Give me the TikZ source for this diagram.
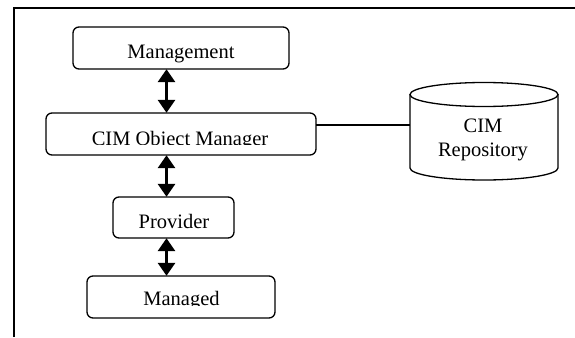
\documentclass[tikz,border=0pt]{standalone}
\usepackage{fontspec}
\setmainfont{Liberation Serif}
\usetikzlibrary{arrows.meta}
\begin{document}
\begin{tikzpicture}[x=1pt,y=-1pt,
  box/.style={draw, line width=1.3pt, rounded corners=6pt},
  txt/.style={inner sep=0pt, anchor=base, font=\fontsize{20.5}{24}\selectfont},
  dbl/.style={line width=3pt, {Triangle[width=17pt,length=13pt]}-{Triangle[width=17pt,length=13pt]}}]
\useasboundingbox (0,0) rectangle (575,337);
% frame
\draw[line width=1.3pt] (14,337) -- (14,8) -- (575,8);
% boxes
\draw[box] (73,27) rectangle (289,69);
\node[inner sep=0pt] (mgmt) at (181,48) [minimum width=216pt, minimum height=42pt] {};
\node[txt] (tmgmt) at (181,58.3) {Management};
\draw[box] (46,113) rectangle (316,155);
\node[inner sep=0pt] (cim) at (181,134) [minimum width=270pt, minimum height=42pt] {};
\begin{scope}
\clip (46,113) rectangle (316,144);
\node[txt] (tcim) at (180,145.3) {CIM Object Manager};
\end{scope}
\draw[box] (113,197) rectangle (234,238);
\node[inner sep=0pt] (prov) at (173.5,217.5) [minimum width=121pt, minimum height=41pt] {};
\node[txt] (tprov) at (174,228.3) {Provider};
\draw[box] (87,276) rectangle (275,318);
\node[inner sep=0pt] (mand) at (181,297) [minimum width=188pt, minimum height=42pt] {};
\begin{scope}
\clip (87,276) rectangle (275,305);
\node[txt] (tmand) at (181.5,305.3) {Managed};
\end{scope}
% cylinder
\draw[line width=1.3pt] (484,94.5) ellipse [x radius=74, y radius=12];
\draw[line width=1.3pt] (410,94.5) -- (410,168) arc[start angle=180, end angle=360, x radius=74, y radius=-12] -- (558,94.5);
\node[inner sep=0pt] (repo) at (484,137) [minimum width=148pt, minimum height=86pt] {};
\node[txt] at (483,132.7) {CIM};
\node[txt] at (483,156) {Repository};
% connectors
\draw[dbl] (166.5,0 |- mgmt.south) -- (166.5,0 |- cim.north);
\draw[dbl] (166.5,0 |- cim.south) -- (166.5,0 |- prov.north);
\draw[dbl] (166.5,0 |- prov.south) -- (166.5,0 |- mand.north);
\draw[line width=1.3pt] (cim.east |- 0,125) -- (repo.west |- 0,125);
\end{tikzpicture}
\end{document}
